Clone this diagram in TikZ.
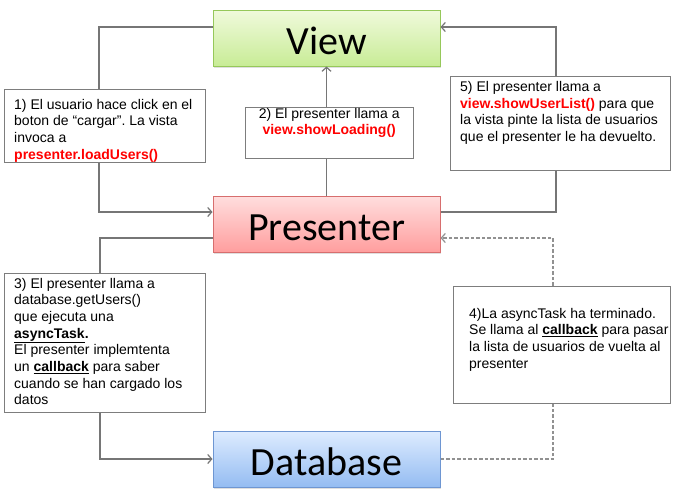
\documentclass[tikz,border=0pt]{standalone}
\usepackage{fontspec}
\setmainfont{Liberation Sans}
\newfontfamily\bigfont{Carlito}
\usetikzlibrary{arrows.meta,shadows}
\frenchspacing
\definecolor{conncol}{RGB}{118,118,118}
\definecolor{dashcol}{RGB}{145,145,145}
\definecolor{notecol}{RGB}{125,125,125}
\definecolor{redtxt}{RGB}{255,0,0}
\definecolor{viewtop}{RGB}{240,250,220}
\definecolor{viewbot}{RGB}{200,236,150}
\definecolor{viewbd}{RGB}{150,200,90}
\definecolor{prestop}{RGB}{255,222,222}
\definecolor{presbot}{RGB}{255,158,158}
\definecolor{presbd}{RGB}{215,110,110}
\definecolor{dbtop}{RGB}{222,236,255}
\definecolor{dbbot}{RGB}{148,188,242}
\definecolor{dbbd}{RGB}{110,150,210}
\newcommand{\rd}[1]{\textcolor{redtxt}{\textbf{#1}}}
\newcommand{\ub}[1]{\underline{\textbf{#1}}}
\tikzset{
  mainbox/.style={draw, line width=1pt, minimum width=227pt, minimum height=56pt,
    inner sep=0pt, text height=32pt, text depth=0pt, font=\bigfont\fontsize{40}{44}\selectfont,
    drop shadow={shadow xshift=0.5pt, shadow yshift=-1.5pt, opacity=0.25}},
  notebox/.style={draw=notecol, line width=1pt, fill=white, inner sep=0pt},
  notetext/.style={inner sep=0pt, anchor=base west},
  conn/.style={draw=conncol, line width=1.2pt},
  connarrow/.style={conn, -{Straight Barb[length=4pt,width=9pt,line width=1.2pt]}},
  dconn/.style={conn, draw=dashcol, dash pattern=on 3.5pt off 2pt},
  dconnarrow/.style={connarrow, draw=dashcol, dash pattern=on 3.5pt off 2pt},
}
\newcommand{\notepar}[2]{\parbox[t]{#1}{\fontsize{14}{16.7}\selectfont #2}}
\begin{document}
\begin{tikzpicture}[x=1pt,y=-1pt]
\useasboundingbox[fill=white] (0,0) rectangle (680,501);
% main boxes
\node[mainbox, draw=viewbd, top color=viewtop, bottom color=viewbot] (view) at (326.5,38) {View};
\node[mainbox, draw=presbd, top color=prestop, bottom color=presbot] (pres) at (326.5,224) {Presenter};
\node[mainbox, draw=dbbd, top color=dbtop, bottom color=dbbot] (db) at (326.5,459) {Database};
% note boxes
\node[notebox, minimum width=201pt, minimum height=73pt] (b1) at (104.5,125.5) {};
\node[notebox, minimum width=168pt, minimum height=51pt] (b2) at (329,132.5) {};
\node[notebox, minimum width=220pt, minimum height=94pt] (b5) at (560,123) {};
\node[notebox, minimum width=201pt, minimum height=139pt] (b3) at (104.5,342.5) {};
\node[notebox, minimum width=217pt, minimum height=117pt] (b4) at (561.5,344.5) {};
% texts
\node[notetext] (t1) at (14,109) {\notepar{190pt}{1) El usuario hace click en el\\boton de “cargar”. La vista\\invoca a\\\rd{presenter.loadUsers()}}};
\node[notetext] (t2) at (245,118) {\notepar{168pt}{\centering 2) El presenter llama a\\\rd{view.showLoading()}}};
\node[notetext] (t5) at (460,91.5) {\notepar{205pt}{5) El presenter llama a\\\rd{view.showUserList()} para que\\la vista pinte la lista de usuarios\\que el presenter le ha devuelto.}};
\node[notetext] (t3) at (14,288) {\notepar{190pt}{3) El presenter llama a\\database.getUsers()\\que ejecuta una\\\ub{asyncTask}\textbf{.}\\El presenter implemtenta\\un \ub{callback} para saber\\cuando se han cargado los\\datos}};
\node[notetext] (t4) at (469,318) {\notepar{200pt}{4)La asyncTask ha terminado.\\Se llama al \ub{callback} para pasar\\la lista de usuarios de vuelta al\\presenter}};
% connectors
\draw[conn] ([yshift=11pt]view.west) -| ([xshift=-5.5pt]b1.north);
\draw[connarrow] ([xshift=-5.5pt]b1.south) |- ([yshift=12pt]pres.west);
\draw[conn] (pres.north) -- (pres.north |- b2.south);
\draw[connarrow] (pres.north |- b2.north) -- (view.south);
\draw[conn] ([yshift=12pt]pres.east) -| ([xshift=-4pt]b5.south);
\draw[connarrow] ([xshift=-4pt]b5.north) |- ([yshift=11pt]view.east);
\draw[conn] ([yshift=-14pt]pres.west) -| ([xshift=-4.5pt]b3.north);
\draw[connarrow] ([xshift=-4.5pt]b3.south) |- (db.west);
\draw[dconn] (db.east) -| ([xshift=-8.5pt]b4.south);
\draw[dconnarrow] ([xshift=-8.5pt]b4.north) |- ([yshift=-14pt]pres.east);
\end{tikzpicture}
\end{document}
